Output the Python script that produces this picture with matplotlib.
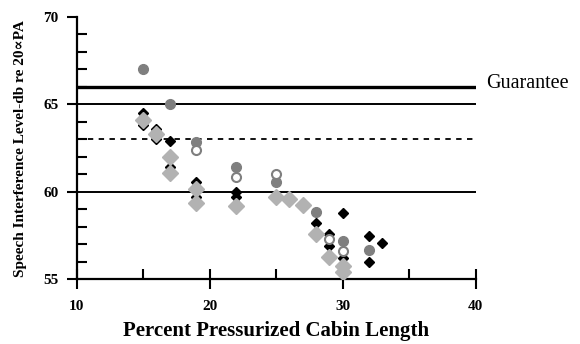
import matplotlib.pyplot as plt
from matplotlib.ticker import MultipleLocator

# data
black_x = [15, 15, 16, 16, 17, 17, 19, 19, 22, 22, 28, 29, 29, 30, 30, 32, 32, 33]
black_y = [64.5, 63.8, 63.6, 63.0, 62.9, 61.4, 60.55, 59.7, 60.0, 59.7, 58.2, 57.6, 56.9, 58.8, 56.2, 57.5, 56.0, 57.05]

dark_x = [15, 17, 19, 22, 25, 28, 30, 32]
dark_y = [67.0, 65.0, 62.85, 61.4, 60.55, 58.85, 57.2, 56.7]

open_x = [19, 22, 25, 29, 30]
open_y = [62.4, 60.85, 61.0, 57.3, 56.6]

light_x = [15, 16, 17, 17, 19, 19, 22, 25, 26, 27, 28, 29, 30, 30]
light_y = [64.1, 63.3, 62.0, 61.1, 60.15, 59.35, 59.2, 59.7, 59.6, 59.25, 57.6, 56.3, 55.75, 55.4]

guarantee = 66
limit_lines = [65, 60]
dashed_level = 63

plt.rcParams['font.family'] = ['Liberation Serif', 'DejaVu Serif', 'DejaVu Sans']

fig = plt.figure(figsize=(5.8, 3.44), dpi=100)
ax = fig.add_axes([0.132, 0.188, 0.688, 0.763])

ax.axhline(guarantee, color='black', lw=2.4, zorder=1)
for v in limit_lines:
    ax.axhline(v, color='black', lw=1.4, zorder=1)
ax.axhline(dashed_level, color='black', lw=1.3, ls=(0, (3, 3)), zorder=1)

ax.plot(black_x, black_y, 'D', color='black', ms=5.5, zorder=2)
ax.plot(dark_x, dark_y, 'o', color='#7f7f7f', ms=7, zorder=3)
ax.plot(open_x, open_y, 'o', mfc='white', mec='#7f7f7f', mew=1.5, ms=6.5, zorder=3)
ax.plot(light_x, light_y, 'D', color='#b2b2b2', ms=8.5, zorder=4)

ax.text(40.8, 66.2, 'Guarantee', fontsize=14.5, ha='left', va='center', clip_on=False)

ax.set_xlim(10, 40)
ax.set_ylim(55, 70)
ax.xaxis.set_major_locator(MultipleLocator(10))
ax.xaxis.set_minor_locator(MultipleLocator(5))
ax.yaxis.set_major_locator(MultipleLocator(5))
ax.yaxis.set_minor_locator(MultipleLocator(1))
ax.tick_params(axis='x', which='major', direction='inout', length=14, width=1.5, pad=8)
ax.tick_params(axis='x', which='minor', direction='in', length=7, width=1.5)
ax.tick_params(axis='y', which='major', direction='out', length=7, width=1.5, pad=6)
ax.tick_params(axis='y', which='minor', direction='in', length=7, width=1.5)
for lab in ax.get_xticklabels() + ax.get_yticklabels():
    lab.set_fontweight('bold')
    lab.set_fontsize(11)

ax.spines['top'].set_visible(False)
ax.spines['right'].set_visible(False)
ax.spines['left'].set_linewidth(1.6)
ax.spines['bottom'].set_linewidth(1.6)

ax.set_xlabel('Percent Pressurized Cabin Length', fontsize=15, fontweight='bold', labelpad=6)
ax.set_ylabel('Speech Interference Level-db re 20\u221dPA', fontsize=11, fontweight='bold', labelpad=12)

fig.savefig('out.png', dpi=100)
